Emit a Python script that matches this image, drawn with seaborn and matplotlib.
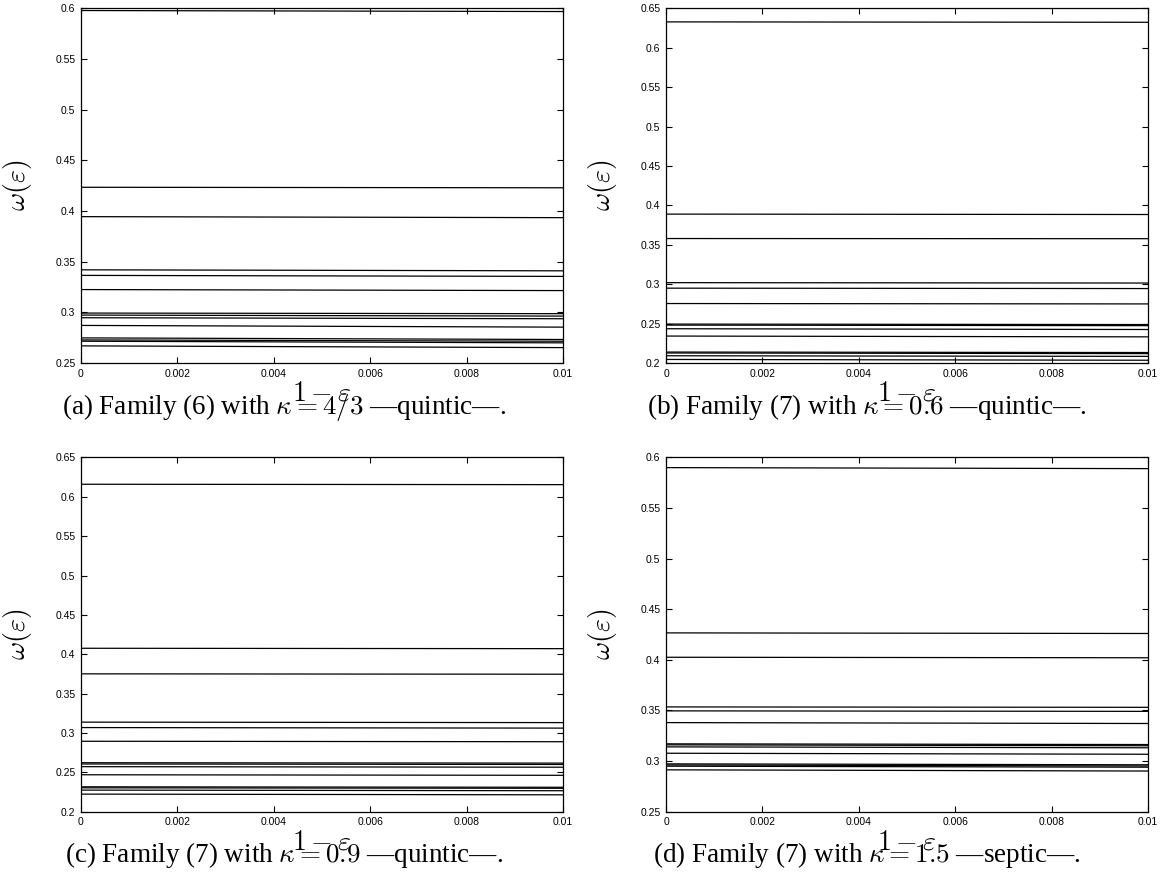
import numpy as np
import pandas as pd
import matplotlib
matplotlib.use("Agg")
import matplotlib.pyplot as plt
import seaborn as sns
from matplotlib.ticker import FuncFormatter, MultipleLocator

# ---- data: each curve omega(eps) sampled at the two ends of the x range ----
X_ENDS = [0.0, 0.01]

A_LEFT = [0.598, 0.4235, 0.3945, 0.342, 0.3365, 0.3225, 0.2993, 0.2973, 0.2947,
          0.2871, 0.2748, 0.2728, 0.2715, 0.2669]
A_RIGHT = [0.597, 0.423, 0.3935, 0.341, 0.3355, 0.3215, 0.2987, 0.2963, 0.2937,
           0.2854, 0.2732, 0.2715, 0.2699, 0.2652]

B_LEFT = [0.633, 0.389, 0.358, 0.302, 0.295, 0.2755, 0.2494, 0.2481, 0.2435,
          0.2342, 0.2139, 0.2127, 0.2092, 0.2045]
B_RIGHT = [0.6325, 0.3885, 0.3578, 0.3015, 0.2945, 0.275, 0.2488, 0.2474, 0.2425,
           0.2332, 0.2133, 0.2119, 0.2084, 0.2035]

C_LEFT = [0.616, 0.4075, 0.375, 0.3136, 0.3067, 0.2893, 0.262, 0.2604, 0.257,
          0.2467, 0.2314, 0.2301, 0.2272, 0.2221]
C_RIGHT = [0.6155, 0.407, 0.3745, 0.313, 0.306, 0.2887, 0.2615, 0.2598, 0.2563,
           0.246, 0.2308, 0.2295, 0.2264, 0.2212]

D_LEFT = [0.590, 0.4266, 0.4025, 0.3534, 0.3495, 0.3379, 0.3169, 0.3159, 0.3139,
          0.3076, 0.2971, 0.296, 0.2948, 0.2912]
D_RIGHT = [0.589, 0.426, 0.402, 0.353, 0.349, 0.337, 0.3162, 0.315, 0.313,
           0.3066, 0.2962, 0.295, 0.2938, 0.290]

Y_RANGES = {"a": (0.25, 0.6), "b": (0.2, 0.65), "c": (0.2, 0.65), "d": (0.25, 0.6)}

CAPTIONS = {
    "a": "(a) Family (6) with $\\kappa = 4/3$ \u2014quintic\u2014.",
    "b": "(b) Family (7) with $\\kappa = 0.6$ \u2014quintic\u2014.",
    "c": "(c) Family (7) with $\\kappa = 0.9$ \u2014quintic\u2014.",
    "d": "(d) Family (7) with $\\kappa = 1.5$ \u2014septic\u2014.",
}
X_LABEL = r"$1-\varepsilon$"
Y_LABEL = r"$\omega(\varepsilon)$"

PANELS = {"a": (A_LEFT, A_RIGHT), "b": (B_LEFT, B_RIGHT),
          "c": (C_LEFT, C_RIGHT), "d": (D_LEFT, D_RIGHT)}

# ---- style ----
sns.set_style("ticks")
plt.rcParams["font.family"] = ["Liberation Sans", "DejaVu Sans"]
plt.rcParams["mathtext.fontset"] = "cm"
plt.rcParams["text.color"] = "black"
plt.rcParams["axes.labelcolor"] = "black"

W, H = 1168, 880
fig = plt.figure(figsize=(W / 100, H / 100), dpi=100)

def fx(px):
    return px / W

def fy(py):
    return 1 - py / H

# axes boxes in pixels: left, right, top, bottom
BOXES = {
    "a": (81, 563, 8.5, 363),
    "b": (666, 1148, 8.5, 363),
    "c": (81, 563, 457.5, 811.5),
    "d": (666, 1148, 457.5, 811.5),
}
CAP_POS = {"a": (284, 407), "b": (867, 407), "c": (284, 855), "d": (867, 855)}

fmt = FuncFormatter(lambda v, p: "%g" % round(v, 6))

for key, (left, right) in PANELS.items():
    l, r, t, b = BOXES[key]
    ax = fig.add_axes([fx(l), fy(b), (r - l) / W, (b - t) / H])
    rows = []
    for i, (yl, yr) in enumerate(zip(left, right)):
        rows.append({"x": X_ENDS[0], "y": yl, "mode": i})
        rows.append({"x": X_ENDS[1], "y": yr, "mode": i})
    df = pd.DataFrame(rows)
    sns.lineplot(data=df, x="x", y="y", units="mode", estimator=None,
                 color="black", lw=0.9, ax=ax, legend=False)
    ax.set_xlim(X_ENDS[0], X_ENDS[1])
    ax.set_ylim(*Y_RANGES[key])
    ax.xaxis.set_major_locator(MultipleLocator(0.002))
    ax.yaxis.set_major_locator(MultipleLocator(0.05))
    ax.xaxis.set_major_formatter(fmt)
    ax.yaxis.set_major_formatter(fmt)
    ax.tick_params(direction="in", top=True, right=True, length=4, width=0.8,
                   labelsize=7.5, pad=4, colors="black")
    for s in ax.spines.values():
        s.set_linewidth(0.9)
        s.set_color("black")
    ax.set_xlabel(X_LABEL, fontsize=20)
    ax.set_ylabel(Y_LABEL, fontsize=20)
    ax.xaxis.set_label_coords(0.5, -0.05)
    ax.yaxis.set_label_coords(-0.098, 0.5)
    cx, cy = CAP_POS[key]
    fig.text(fx(cx), fy(cy), CAPTIONS[key], ha="center", va="center",
             fontsize=19.5, color="black", family=["Liberation Serif", "DejaVu Serif"])

fig.savefig("out.png", dpi=100)
